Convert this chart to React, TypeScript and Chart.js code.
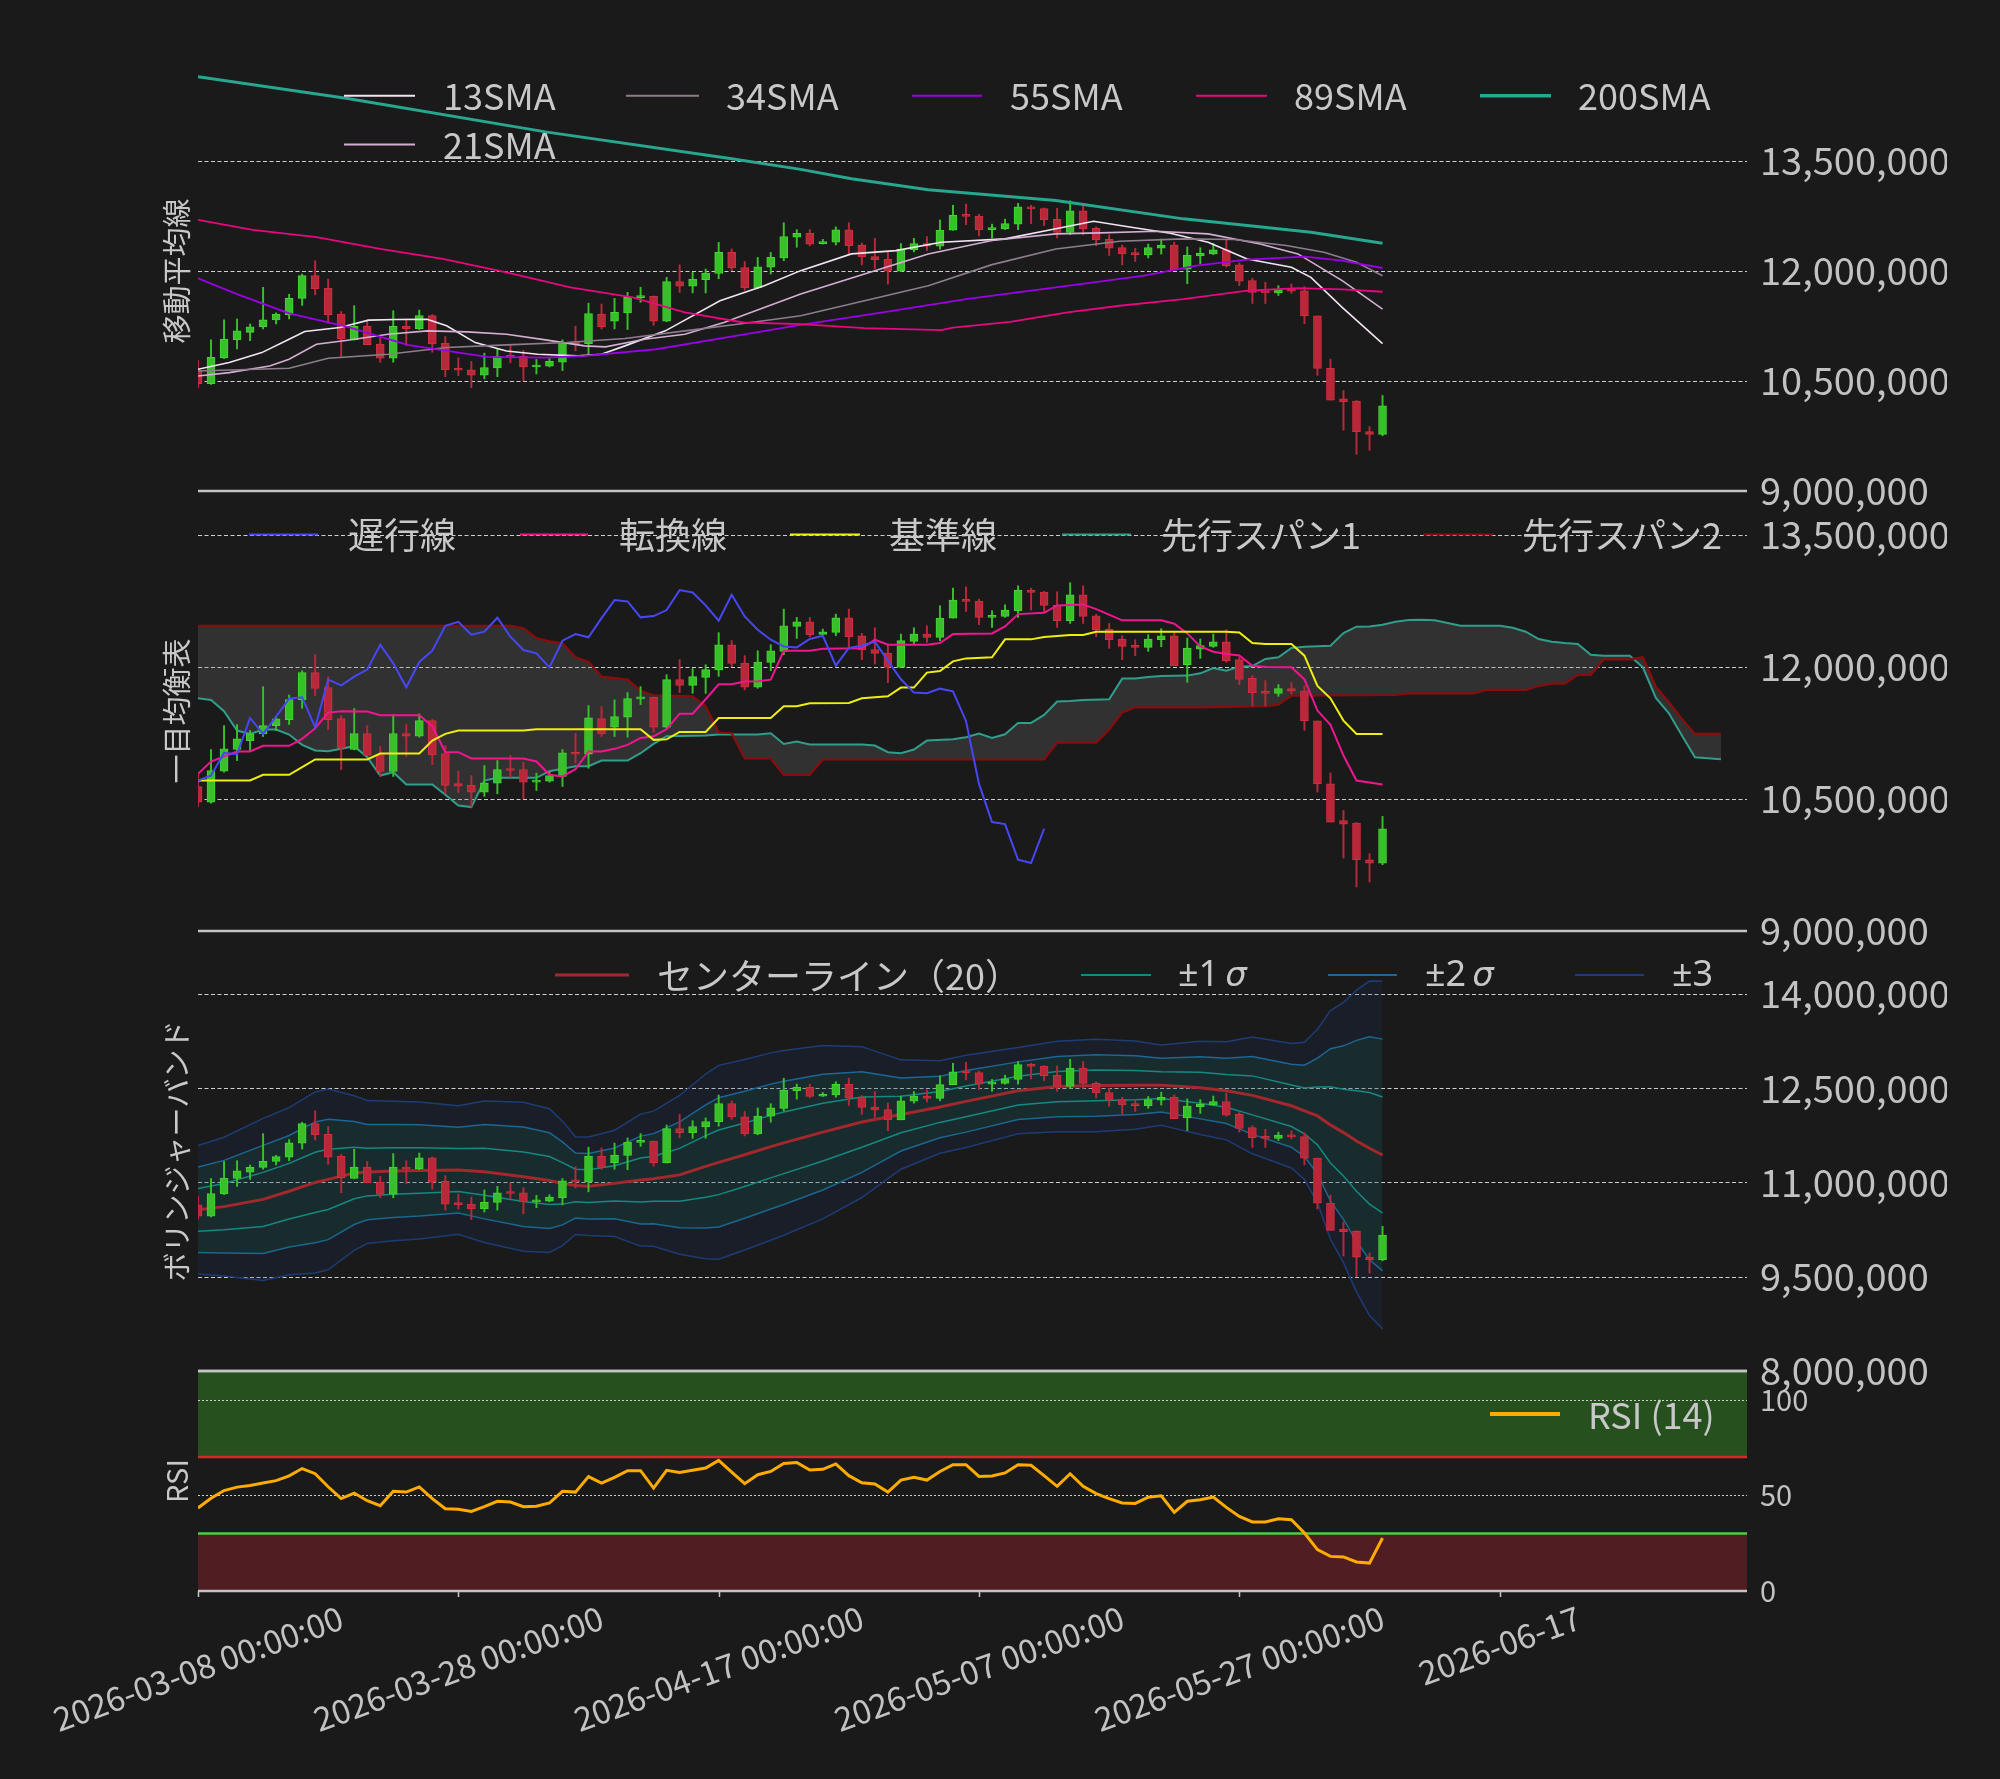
import React, { useEffect, useRef } from "react";
import { Chart, registerables } from "chart.js";

Chart.register(...registerables);

const FONT = '"Noto Sans CJK JP", "Noto Sans", sans-serif';
const LATIN_FONT = '"Noto Sans", "DejaVu Sans", sans-serif';
const BG = "#1a1a1a";
const TEXT = "#c8c8c8";
const TICK = "#c2c2c2";
const GRID = "#cfcfcf";
const SPINE = "#c4c4c4";
const GREEN = "#37c02a";
const GREEN_EDGE = "#44d433";
const RED = "#b8283a";
const RED_EDGE = "#d0303d";

const C13 = "#f3e4f3";
const C21 = "#d4afd4";
const C34 = "#8e7c8e";
const C55 = "#9b00e8";
const C89 = "#e8077f";
const C200 = "#28a690";
const LAG = "#4747f5";
const TENKAN = "#f0168f";
const KIJUN = "#eeee10";
const SPAN1 = "#27a28d";
const SPAN2 = "#8a0c0c";
const CLOUD = "rgba(125,125,125,0.24)";
const BB_MID = "#a3282e";
const BB1 = "#168884";
const BB2 = "#1d6696";
const BB3 = "#1d3d76";
const BB3_FILL = "rgba(32,52,115,0.17)";
const BB2_FILL = "rgba(20,110,70,0.17)";
const RSI_LINE = "#ffab00";
const RSI_HIGH_FILL = "#26511f";
const RSI_LOW_FILL = "#4f1d22";
const RSI_HIGH_LINE = "#d42a2a";
const RSI_LOW_LINE = "#4ccf3a";

// ---- daily candles (index 0 = 2026-03-08), prices in million JPY ----
const opens = [10.642, 10.464, 10.816, 11.062, 11.164, 11.24, 11.334, 11.402, 11.626, 11.936, 11.766, 11.414, 11.062, 11.244, 11.005, 10.812, 11.244, 11.213, 11.391, 11.017, 10.676, 10.654, 10.578, 10.68, 10.835, 10.835, 10.691, 10.703, 10.756, 11.028, 11.009, 11.414, 11.315, 11.429, 11.637, 11.656, 11.315, 11.856, 11.792, 11.883, 11.966, 12.253, 12.045, 11.77, 12.053, 12.178, 12.461, 12.514, 12.371, 12.393, 12.56, 12.355, 12.197, 12.159, 11.996, 12.291, 12.374, 12.337, 12.556, 12.76, 12.749, 12.564, 12.575, 12.639, 12.874, 12.851, 12.703, 12.526, 12.821, 12.582, 12.431, 12.318, 12.242, 12.223, 12.31, 12.355, 12.026, 12.204, 12.234, 12.287, 12.083, 11.871, 11.72, 11.701, 11.754, 11.728, 11.387, 10.672, 10.256, 10.226, 9.81, 9.772];
const highs = [10.78, 11.062, 11.334, 11.346, 11.278, 11.777, 11.43, 11.682, 11.958, 12.14, 11.89, 11.448, 11.527, 11.334, 11.096, 11.459, 11.346, 11.467, 11.406, 11.107, 10.816, 10.767, 10.88, 10.937, 10.994, 10.918, 10.794, 10.805, 11.062, 11.247, 11.561, 11.55, 11.626, 11.709, 11.777, 11.66, 11.913, 12.083, 11.981, 12.026, 12.39, 12.3, 12.129, 12.185, 12.253, 12.658, 12.564, 12.564, 12.431, 12.601, 12.658, 12.382, 12.446, 12.261, 12.374, 12.446, 12.469, 12.696, 12.896, 12.911, 12.772, 12.639, 12.707, 12.923, 12.896, 12.859, 12.855, 12.957, 12.923, 12.601, 12.495, 12.355, 12.31, 12.367, 12.435, 12.393, 12.329, 12.318, 12.374, 12.424, 12.11, 11.902, 11.845, 11.8, 11.822, 11.788, 11.387, 10.797, 10.37, 10.234, 9.878, 10.302];
const lows = [10.41, 10.453, 10.805, 10.937, 11.05, 11.21, 11.278, 11.346, 11.531, 11.675, 11.289, 10.835, 11.058, 10.994, 10.756, 10.756, 10.983, 11.202, 10.892, 10.559, 10.574, 10.408, 10.529, 10.559, 10.748, 10.502, 10.597, 10.691, 10.642, 10.911, 10.85, 11.21, 11.21, 11.202, 11.573, 11.259, 11.308, 11.709, 11.701, 11.701, 11.894, 12.004, 11.739, 11.758, 11.958, 12.14, 12.325, 12.344, 12.367, 12.355, 12.223, 12.083, 12.034, 11.822, 11.996, 12.261, 12.28, 12.299, 12.556, 12.632, 12.48, 12.45, 12.564, 12.564, 12.647, 12.62, 12.45, 12.495, 12.495, 12.344, 12.212, 12.083, 12.129, 12.178, 12.231, 12.015, 11.826, 12.098, 12.223, 12.053, 11.8, 11.557, 11.557, 11.667, 11.694, 11.281, 10.578, 10.238, 9.829, 9.5, 9.557, 9.753];
const closes = [10.464, 10.824, 11.07, 11.183, 11.24, 11.334, 11.41, 11.629, 11.936, 11.758, 11.402, 11.077, 11.244, 10.994, 10.812, 11.244, 11.213, 11.391, 11.005, 10.654, 10.646, 10.578, 10.684, 10.835, 10.824, 10.691, 10.71, 10.767, 11.024, 11.009, 11.421, 11.24, 11.436, 11.641, 11.656, 11.315, 11.856, 11.792, 11.89, 11.97, 12.253, 12.042, 11.77, 12.057, 12.185, 12.469, 12.514, 12.367, 12.401, 12.56, 12.344, 12.193, 12.155, 11.996, 12.299, 12.374, 12.337, 12.556, 12.76, 12.745, 12.564, 12.579, 12.647, 12.874, 12.847, 12.7, 12.526, 12.821, 12.575, 12.424, 12.31, 12.234, 12.223, 12.318, 12.355, 12.015, 12.216, 12.242, 12.287, 12.072, 11.86, 11.709, 11.701, 11.754, 11.724, 11.387, 10.672, 10.238, 10.215, 9.81, 9.772, 10.162];

// ---- moving averages: [day, million JPY] vertices ----
const sma13 = [[0, 10.659], [2.4, 10.751], [4.9, 10.887], [7, 11.07], [8.2, 11.175], [10.9, 11.229], [13.1, 11.33], [15.2, 11.339], [17.6, 11.343], [19.1, 11.252], [21.3, 11.024], [23.7, 10.91], [26.1, 10.865], [29.2, 10.842], [31, 10.865], [32.8, 10.979], [35.9, 11.184], [40.1, 11.594], [43.5, 11.799], [46.3, 12.005], [50.2, 12.233], [53.6, 12.278], [57.1, 12.392], [62, 12.438], [65.9, 12.575], [68.8, 12.679], [71.7, 12.597], [74.7, 12.515], [77.6, 12.392], [80.6, 12.164], [84, 12.05], [85.5, 11.913], [87.9, 11.503], [91, 11.01]];
const sma21 = [[0, 10.568], [2.4, 10.614], [5.5, 10.705], [7, 10.796], [9.1, 11.001], [11.5, 11.056], [14.6, 11.138], [17.6, 11.184], [20.7, 11.17], [23.7, 11.138], [26.7, 11.061], [29.7, 10.979], [31.3, 10.965], [34.3, 11.07], [37.4, 11.138], [40.4, 11.298], [43.5, 11.503], [46.3, 11.685], [51.2, 11.959], [56.1, 12.233], [61, 12.415], [65.9, 12.506], [69.3, 12.52], [73.6, 12.543], [77.6, 12.506], [81.6, 12.369], [84.5, 12.233], [87.9, 11.868], [91, 11.48]];
const sma34 = [[0, 10.637], [7, 10.673], [10, 10.81], [14.6, 10.865], [19.1, 10.956], [23.7, 10.992], [28.3, 11.024], [32.8, 11.079], [37.4, 11.184], [41.9, 11.284], [46.3, 11.389], [51.2, 11.594], [56.1, 11.799], [61, 12.087], [65.9, 12.301], [70.8, 12.406], [75.7, 12.438], [79.6, 12.429], [83.6, 12.347], [86.5, 12.255], [89, 12.119], [91, 11.936]];
const sma55 = [[0, 11.9], [3, 11.685], [7, 11.421], [11.5, 11.238], [16.1, 10.992], [22.2, 10.828], [26.7, 10.819], [29.7, 10.842], [35.2, 10.933], [41.3, 11.115], [46.3, 11.266], [52.6, 11.435], [59, 11.617], [65.9, 11.777], [72.7, 11.936], [76.7, 12.073], [80.6, 12.155], [85, 12.196], [87.9, 12.141], [91, 12.041]];
const sma89 = [[0, 12.698], [4.2, 12.561], [9.1, 12.461], [14, 12.301], [18.8, 12.164], [23.7, 11.982], [28.6, 11.777], [33.4, 11.64], [37.4, 11.435], [41.9, 11.298], [46.3, 11.275], [51.2, 11.22], [57.1, 11.193], [58, 11.229], [62.4, 11.307], [66.8, 11.435], [70.8, 11.526], [75.7, 11.617], [80.6, 11.731], [84.5, 11.767], [87.9, 11.749], [91, 11.717]];
const sma200 = [[0, 14.649], [11.5, 14.353], [26.7, 13.897], [41, 13.532], [46.3, 13.386], [50.2, 13.259], [56.1, 13.108], [65.9, 12.962], [75.7, 12.711], [80.6, 12.62], [85.5, 12.529], [91, 12.378]];

// ---- Ichimoku vertices ----
const tenkan = [[0, 10.786], [1, 10.926], [2, 10.983], [3, 11.04], [4, 11.04], [5, 11.104], [7, 11.104], [8, 11.183], [9, 11.304], [10, 11.482], [11, 11.497], [13, 11.493], [14, 11.452], [17, 11.452], [18, 11.327], [19, 11.032], [20, 11.032], [21, 10.96], [25, 10.96], [26, 10.926], [27, 10.775], [28, 10.756], [29, 10.839], [30, 11.04], [31, 11.04], [32, 11.07], [33, 11.115], [34, 11.194], [35, 11.213], [36, 11.293], [37, 11.47], [38, 11.47], [39, 11.633], [40, 11.803], [41, 11.803], [42, 11.834], [43, 11.837], [44, 11.856], [45, 12.185], [47, 12.185], [48, 12.208], [51, 12.212], [52, 12.31], [53, 12.253], [56, 12.253], [57, 12.272], [58, 12.374], [61, 12.382], [62, 12.461], [63, 12.601], [65, 12.616], [66, 12.7], [68, 12.711], [69, 12.658], [71, 12.53], [74, 12.53], [75, 12.492], [76, 12.382], [77, 12.234], [78, 12.174], [79, 12.147], [80, 12.132], [81, 12.015], [82, 12.0], [84, 11.996], [85, 11.86], [86, 11.505], [87, 11.342], [88, 10.994], [89, 10.71], [91, 10.665]];
const kijun = [[0, 10.71], [4, 10.71], [5, 10.775], [7, 10.775], [8, 10.862], [9, 10.949], [13, 10.949], [14, 11.017], [17, 11.017], [18, 11.164], [19, 11.24], [20, 11.278], [25, 11.278], [26, 11.293], [34, 11.293], [35, 11.172], [36, 11.179], [37, 11.262], [39, 11.262], [40, 11.421], [44, 11.421], [45, 11.554], [46, 11.554], [47, 11.588], [50, 11.592], [51, 11.644], [53, 11.667], [54, 11.766], [55, 11.766], [56, 11.936], [57, 11.955], [58, 12.064], [59, 12.098], [61, 12.11], [62, 12.314], [64, 12.314], [65, 12.34], [67, 12.363], [68, 12.363], [69, 12.401], [79, 12.401], [80, 12.393], [81, 12.272], [82, 12.261], [84, 12.261], [85, 12.129], [86, 11.784], [87, 11.644], [88, 11.391], [89, 11.24], [91, 11.24]];
const senkou1 = [[0, 11.644], [1, 11.626], [2, 11.497], [3, 11.278], [4, 11.24], [5, 11.289], [6, 11.289], [7, 11.232], [8, 11.115], [9, 11.051], [10, 11.043], [11, 11.07], [12, 11.1], [13, 10.975], [14, 10.767], [15, 10.805], [16, 10.665], [18, 10.665], [19, 10.548], [20, 10.427], [21, 10.408], [22, 10.71], [23, 10.741], [26, 10.741], [27, 10.816], [28, 10.843], [29, 10.873], [30, 10.873], [31, 10.937], [33, 10.937], [34, 11.02], [35, 11.126], [36, 11.213], [39, 11.221], [40, 11.232], [43, 11.232], [44, 11.247], [45, 11.126], [46, 11.153], [47, 11.119], [51, 11.119], [52, 11.107], [53, 11.032], [54, 11.02], [55, 11.062], [56, 11.164], [58, 11.18], [59, 11.202], [60, 11.244], [61, 11.194], [62, 11.236], [63, 11.365], [64, 11.365], [65, 11.455], [66, 11.607], [67, 11.614], [68, 11.626], [70, 11.633], [71, 11.868], [72, 11.868], [73, 11.887], [74, 11.898], [76, 11.902], [77, 11.928], [78, 11.989], [79, 11.958], [80, 12.004], [81, 12.011], [82, 12.091], [83, 12.11], [84, 12.216], [85, 12.231], [87, 12.242], [88, 12.386], [89, 12.458], [90, 12.461], [91, 12.48], [92, 12.514], [93, 12.533], [94, 12.537], [95, 12.53], [96, 12.499], [97, 12.469], [100, 12.469], [101, 12.446], [102, 12.401], [103, 12.318], [104, 12.287], [105, 12.272], [106, 12.261], [107, 12.14], [108, 12.129], [110, 12.129], [111, 11.996], [112, 11.648], [113, 11.474], [114, 11.221], [115, 10.975], [117, 10.952]];
const senkou2 = [[0, 12.469], [24, 12.469], [25, 12.439], [26, 12.329], [27, 12.291], [28, 12.269], [29, 12.11], [30, 12.06], [31, 11.89], [33, 11.856], [34, 11.731], [35, 11.679], [38, 11.667], [39, 11.554], [40, 11.255], [41, 11.247], [42, 10.96], [44, 10.96], [45, 10.775], [47, 10.775], [48, 10.949], [65, 10.949], [66, 11.141], [69, 11.141], [70, 11.289], [71, 11.482], [72, 11.542], [77, 11.542], [82, 11.554], [83, 11.573], [84, 11.675], [92, 11.682], [93, 11.701], [98, 11.701], [99, 11.739], [102, 11.739], [103, 11.784], [104, 11.811], [105, 11.811], [106, 11.909], [107, 11.909], [108, 12.087], [110, 12.087], [111, 12.11], [112, 11.777], [113, 11.599], [114, 11.41], [115, 11.24], [117, 11.24]];
const chikouShift = 26;

// ---- Bollinger (20): center line and sigma read at these days ----
const bbDays = [0, 2, 5, 7, 9, 10, 12, 13, 15, 17, 20, 22, 25, 27, 28, 29, 30, 32, 34, 35, 37, 39, 40, 42, 44, 45, 48, 51, 54, 57, 59, 63, 66, 69, 72, 74, 77, 79, 81, 84, 85, 86, 87, 88, 89, 90, 91];
const bbCenter = [10.565, 10.615, 10.73, 10.86, 11.0, 11.048, 11.15, 11.165, 11.183, 11.19, 11.197, 11.17, 11.09, 11.03, 10.985, 10.95, 10.94, 10.985, 11.037, 11.06, 11.12, 11.255, 11.32, 11.44, 11.57, 11.63, 11.8, 11.96, 12.08, 12.2, 12.29, 12.46, 12.525, 12.543, 12.548, 12.548, 12.505, 12.457, 12.385, 12.22, 12.138, 12.058, 11.915, 11.793, 11.66, 11.543, 11.436];
const bbSigma = [0.34, 0.368, 0.43, 0.443, 0.48, 0.479, 0.41, 0.379, 0.37, 0.363, 0.341, 0.375, 0.395, 0.381, 0.33, 0.259, 0.261, 0.282, 0.35, 0.358, 0.421, 0.49, 0.514, 0.505, 0.497, 0.49, 0.46, 0.4, 0.29, 0.245, 0.245, 0.229, 0.24, 0.245, 0.234, 0.213, 0.247, 0.26, 0.31, 0.33, 0.364, 0.46, 0.606, 0.69, 0.8, 0.887, 0.922];

// ---- RSI (14), daily ----
const rsi14 = [43.4, 48.5, 52.5, 54.3, 55.2, 56.5, 57.7, 60.2, 64.0, 61.3, 54.5, 48.3, 51.2, 47.2, 44.6, 52.1, 51.7, 54.4, 48.3, 43.0, 42.7, 41.6, 44.1, 46.9, 46.5, 44.1, 44.3, 46.0, 52.1, 51.7, 59.8, 56.4, 59.4, 62.9, 62.9, 53.8, 63.1, 62.0, 63.1, 64.3, 68.3, 62.2, 56.1, 60.8, 62.5, 66.7, 67.2, 63.2, 63.6, 66.4, 60.3, 56.6, 55.9, 51.7, 58.0, 59.4, 58.0, 62.5, 66.0, 66.0, 59.9, 60.1, 61.7, 66.0, 65.7, 60.3, 54.7, 61.3, 54.7, 50.9, 48.3, 46.0, 45.8, 49.0, 49.8, 41.1, 46.9, 47.7, 49.1, 43.7, 39.0, 36.1, 36.1, 37.8, 37.3, 30.3, 21.6, 18.1, 17.8, 15.2, 14.6, 27.7];
const rsiUpper = 70;
const rsiLower = 30;

// ---- axes ----
const xTickDays = [0, 20, 40, 60, 80, 100];
const xTickLabels = ["2026-03-08 00:00:00", "2026-03-28 00:00:00", "2026-04-17 00:00:00", "2026-05-07 00:00:00", "2026-05-27 00:00:00", "2026-06-17"];
const smaTicks = [9, 10.5, 12, 13.5];
const ichiTicks = [9, 10.5, 12, 13.5];
const bbTicks = [8, 9.5, 11, 12.5, 14];
const rsiTicks = [0, 50, 100];

const pts = (arr: number[][]) => arr.map(([x, y]) => ({ x, y }));

function buildDatasets() {
  const ds: any[] = [];
  const add = (d: any) => {
    ds.push(d);
    return ds.length - 1;
  };
  const up = closes.map((c, i) => c >= opens[i]);
  const bodyCol = up.map((u) => (u ? GREEN : RED));
  const edgeCol = up.map((u) => (u ? GREEN_EDGE : RED_EDGE));
  const candles = (yAxisID: string, order: number) => {
    add({
      type: "bar",
      yAxisID,
      data: closes.map((c, i) => ({ x: i, y: [lows[i], highs[i]] })),
      backgroundColor: bodyCol.slice(),
      borderWidth: 0,
      barThickness: 1.3,
      grouped: false,
      order: order + 1,
    });
    add({
      type: "bar",
      yAxisID,
      data: closes.map((c, i) => ({ x: i, y: [opens[i], c] })),
      backgroundColor: bodyCol.slice(),
      borderColor: edgeCol.slice(),
      borderWidth: 1,
      borderSkipped: false,
      barThickness: 8,
      minBarLength: 2,
      grouped: false,
      order,
    });
  };
  const line = (yAxisID: string, data: any[], color: string, width: number, order: number, extra: any = {}) =>
    add({
      type: "line",
      yAxisID,
      data,
      borderColor: color,
      backgroundColor: color,
      borderWidth: width,
      pointRadius: 0,
      tension: 0,
      fill: false,
      order,
      ...extra,
    });

  // panel 1: moving averages
  candles("y1", 5);
  line("y1", pts(sma200), C200, 3, 1);
  line("y1", pts(sma89), C89, 1.8, 1);
  line("y1", pts(sma55), C55, 1.8, 1);
  line("y1", pts(sma34), C34, 1.6, 1);
  line("y1", pts(sma21), C21, 1.6, 1);
  line("y1", pts(sma13), C13, 1.6, 1);

  // panel 2: ichimoku
  const s1 = line("y2", pts(senkou1), SPAN1, 2, 30);
  line("y2", pts(senkou2), SPAN2, 2.2, 29, { fill: { target: s1, above: CLOUD, below: CLOUD } });
  candles("y2", 5);
  line("y2", closes.slice(chikouShift).map((c, i) => ({ x: i, y: c })), LAG, 2, 1);
  line("y2", pts(kijun), KIJUN, 2, 1);
  line("y2", pts(tenkan), TENKAN, 2, 1);

  // panel 3: bollinger
  const band = (k: number) => bbDays.map((d, i) => ({ x: d, y: bbCenter[i] + k * bbSigma[i] }));
  const l3 = line("y3", band(-3), BB3, 1.5, 21);
  line("y3", band(3), BB3, 1.5, 20, { fill: { target: l3, above: BB3_FILL, below: BB3_FILL } });
  const l2 = line("y3", band(-2), BB2, 1.5, 19);
  line("y3", band(2), BB2, 1.5, 18, { fill: { target: l2, above: BB2_FILL, below: BB2_FILL } });
  line("y3", band(-1), BB1, 1.5, 15);
  line("y3", band(1), BB1, 1.5, 15);
  line("y3", band(0), BB_MID, 3, 14);
  candles("y3", 1);

  // panel 4: RSI
  line("y4", rsi14.map((v, i) => ({ x: i, y: v })), RSI_LINE, 3, 1);
  return ds;
}

const priceLabel = (v: any) => Math.round(Number(v) * 1e6).toLocaleString("en-US");

const yAxis = (min: number, max: number, ticks: number[], weight: number, size: number, fmt: (v: any) => string) => ({
  type: "linear",
  axis: "y",
  position: "right",
  stack: "panels",
  stackWeight: weight,
  min,
  max,
  offset: false,
  grid: { display: false, drawTicks: false },
  border: { display: false },
  ticks: { color: TICK, font: { family: FONT, size }, padding: 13, autoSkip: false, callback: fmt },
  afterBuildTicks: (s: any) => {
    s.ticks = ticks.map((value) => ({ value }));
  },
  afterFit: (s: any) => {
    s.width = 200;
  },
});

// [lineStart, lineEnd, textX, label, italic suffix, color, lineWidth, latin font]
type LegendItem = [number, number, number, string, string, string, number, boolean];
const legendRows: { y: number; items: LegendItem[] }[] = [
  { y: 95.7, items: [[344, 415, 443, "13SMA", "", C13, 2, false], [626, 699, 726, "34SMA", "", C34, 2, false], [912, 982, 1010, "55SMA", "", C55, 2, false], [1196, 1267, 1294, "89SMA", "", C89, 2, false], [1480, 1551, 1578, "200SMA", "", C200, 3.5, false]] },
  { y: 144.5, items: [[344, 415, 443, "21SMA", "", C21, 2, false]] },
  { y: 534.4, items: [[249, 318, 348, "遅行線", "", LAG, 2, false], [520, 588, 619, "転換線", "", TENKAN, 2, false], [790, 860, 889, "基準線", "", KIJUN, 2, false], [1062, 1131, 1161, "先行スパン1", "", SPAN1, 2, false], [1423, 1493, 1522, "先行スパン2", "", SPAN2, 2, false]] },
  { y: 975, items: [[555, 629, 657, "センターライン（20）", "", BB_MID, 3, false], [1081, 1151, 1178, "±1", "σ", BB1, 2, true], [1328, 1397, 1425, "±2", "σ", BB2, 2, true], [1575, 1644, 1672, "±3", "", BB3, 2, true]] },
  { y: 1414, items: [[1490, 1560, 1588, "RSI (14)", "", RSI_LINE, 4, false]] },
];
const axisTitles: [string, string][] = [
  ["y1", "移動平均線"],
  ["y2", "一目均衡表"],
  ["y3", "ボリンジャーバンド"],
  ["y4", "RSI"],
];

const decor = {
  id: "decor",
  beforeDatasetsDraw(chart: any) {
    const { ctx, chartArea: ca, scales } = chart;
    const { y1, y2, y3, y4 } = scales;
    const w = ca.right - ca.left;
    ctx.save();
    const p70 = y4.getPixelForValue(rsiUpper);
    const p30 = y4.getPixelForValue(rsiLower);
    ctx.fillStyle = RSI_HIGH_FILL;
    ctx.fillRect(ca.left, y4.top, w, p70 - y4.top);
    ctx.fillStyle = RSI_LOW_FILL;
    ctx.fillRect(ca.left, p30, w, y4.bottom - p30);
    const hline = (y: number) => {
      ctx.beginPath();
      ctx.moveTo(ca.left, y);
      ctx.lineTo(ca.right, y);
      ctx.stroke();
    };
    ctx.strokeStyle = GRID;
    ctx.lineWidth = 1;
    ctx.setLineDash([4, 2.5]);
    ([[y1, smaTicks], [y2, ichiTicks], [y3, bbTicks]] as any[]).forEach(([s, t]) =>
      t.forEach((v: number) => {
        if (v > s.min) hline(Math.round(s.getPixelForValue(v)) + 0.5);
      })
    );
    ctx.setLineDash([2, 2]);
    rsiTicks.forEach((v) => {
      if (v > 0) hline(Math.round(y4.getPixelForValue(v)) + 0.5);
    });
    ctx.setLineDash([]);
    ctx.lineWidth = 2.5;
    ctx.strokeStyle = RSI_HIGH_LINE;
    hline(p70);
    ctx.strokeStyle = RSI_LOW_LINE;
    hline(p30);
    ctx.restore();
  },
  afterDatasetsDraw(chart: any) {
    const { ctx, chartArea: ca, scales } = chart;
    ctx.save();
    // panel bottom spines
    ctx.strokeStyle = SPINE;
    ctx.lineWidth = 2.5;
    ["y1", "y2", "y3", "y4"].forEach((id) => {
      const y = scales[id].bottom;
      ctx.beginPath();
      ctx.moveTo(ca.left, y);
      ctx.lineTo(ca.right, y);
      ctx.stroke();
    });
    ctx.beginPath();
    ctx.moveTo(ca.left, scales.y4.top);
    ctx.lineTo(ca.right, scales.y4.top);
    ctx.stroke();
    // x tick marks
    const xs = scales.x;
    ctx.lineWidth = 1.5;
    xTickDays.forEach((d) => {
      const x = Math.round(xs.getPixelForValue(d)) + 0.5;
      ctx.beginPath();
      ctx.moveTo(x, ca.bottom);
      ctx.lineTo(x, ca.bottom + 6);
      ctx.stroke();
    });
    // legends
    ctx.textBaseline = "middle";
    ctx.textAlign = "left";
    legendRows.forEach((row) => {
      row.items.forEach(([x1, x2, tx, label, suffix, color, lw, latin]) => {
        ctx.strokeStyle = color;
        ctx.lineWidth = lw;
        ctx.beginPath();
        ctx.moveTo(x1, row.y);
        ctx.lineTo(x2, row.y);
        ctx.stroke();
        ctx.fillStyle = TEXT;
        ctx.font = latin ? `36px ${LATIN_FONT}` : `36px ${FONT}`;
        ctx.fillText(label, tx, row.y + 1);
        if (suffix) {
          const lw2 = ctx.measureText(label).width;
          ctx.font = `italic 34px "DejaVu Sans", sans-serif`;
          ctx.fillText(suffix, tx + lw2 + 6, row.y + 2);
        }
      });
    });
    // y axis titles
    ctx.font = `29px ${FONT}`;
    ctx.textAlign = "center";
    axisTitles.forEach(([id, title]) => {
      const s = scales[id];
      ctx.save();
      ctx.translate(177, (s.top + s.bottom) / 2);
      ctx.rotate(-Math.PI / 2);
      ctx.fillStyle = TEXT;
      ctx.fillText(title, 0, 0);
      ctx.restore();
    });
    // rotated x labels
    ctx.font = `33px ${FONT}`;
    const ang = (20 * Math.PI) / 180;
    xTickDays.forEach((d, i) => {
      const x = xs.getPixelForValue(d);
      const L = ctx.measureText(xTickLabels[i]).width;
      const bh = L * Math.sin(ang) + 26 * Math.cos(ang);
      ctx.save();
      ctx.translate(x, ca.bottom + 13 + bh / 2);
      ctx.rotate(-ang);
      ctx.fillStyle = TICK;
      ctx.textAlign = "center";
      ctx.textBaseline = "middle";
      ctx.fillText(xTickLabels[i], 0, 0);
      ctx.restore();
    });
    ctx.restore();
  },
};

export default function App() {
  const ref = useRef<HTMLCanvasElement>(null);
  useEffect(() => {
    const canvas = ref.current;
    if (!canvas) return;
    const chart = new Chart(canvas, {
      type: "line",
      data: { datasets: buildDatasets() },
      options: {
        responsive: false,
        animation: false,
        devicePixelRatio: 1,
        events: [],
        layout: { padding: { left: 198, top: 51, right: 53, bottom: 180 } },
        plugins: { legend: { display: false }, tooltip: { enabled: false } },
        scales: {
          x: {
            type: "linear",
            min: 0,
            max: 119,
            offset: false,
            grid: { display: false, drawTicks: false },
            border: { display: false },
            ticks: { display: false },
            afterFit: (s: any) => {
              s.height = 8;
            },
          },
          y1: yAxis(9, 15, smaTicks, 2, 38, priceLabel),
          y2: yAxis(9, 14, ichiTicks, 2, 38, priceLabel),
          y3: yAxis(8, 15, bbTicks, 2, 38, priceLabel),
          y4: yAxis(0, 115, rsiTicks, 1, 29, (v: any) => String(v)),
        } as any,
      },
      plugins: [decor],
    } as any);
    const fonts: any = (document as any).fonts;
    if (fonts && fonts.load) {
      Promise.all([fonts.load(`35px ${FONT}`, "移動平均線0"), fonts.load(`35px ${FONT}`, "ボリンジャー"), fonts.load(`36px ${LATIN_FONT}`, "±1")])
        .then(() => chart.draw())
        .catch(() => {});
    }
    return () => chart.destroy();
  }, []);
  return (
    <div style={{ position: "absolute", left: 0, top: 0, width: 2000, height: 1779, background: BG, overflow: "hidden" }}>
      <canvas ref={ref} width={2000} height={1779} style={{ display: "block", width: 2000, height: 1779 }} />
    </div>
  );
}
